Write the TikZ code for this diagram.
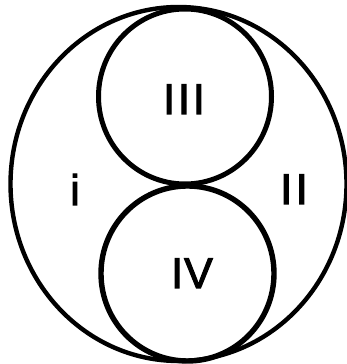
\documentclass[tikz,border=0pt]{standalone}
\usepackage{fontspec}
\newfontfamily\labfont[FakeBold=2.5]{Liberation Sans}
\begin{document}
\begin{tikzpicture}[x=1pt,y=1pt,
  ring/.style={draw=black,line width=4pt},
  lab/.style={anchor=base,inner sep=0pt,font=\labfont\fontsize{43}{43}\selectfont}]
\useasboundingbox (0,0) rectangle (347,364);
\draw[ring,line width=4.4pt] (178.5,180) ellipse [x radius=168, y radius=177];
\draw[ring,line width=5pt] (185,267.5) ellipse [x radius=86.5, y radius=87.5];
\draw[ring,line width=5.4pt] (187.5,90.5) ellipse [x radius=86.5, y radius=87.5];
\node[lab] (l3) at (184,250) {I\kern3pt I\kern3pt I};
\node[lab] (l1) at (75,159) {i};
\node[lab] (l2) at (294,160) {I\kern3.5pt I};
\node[lab] (l4) at (192,76) {I\kern1pt V};
\end{tikzpicture}
\end{document}
